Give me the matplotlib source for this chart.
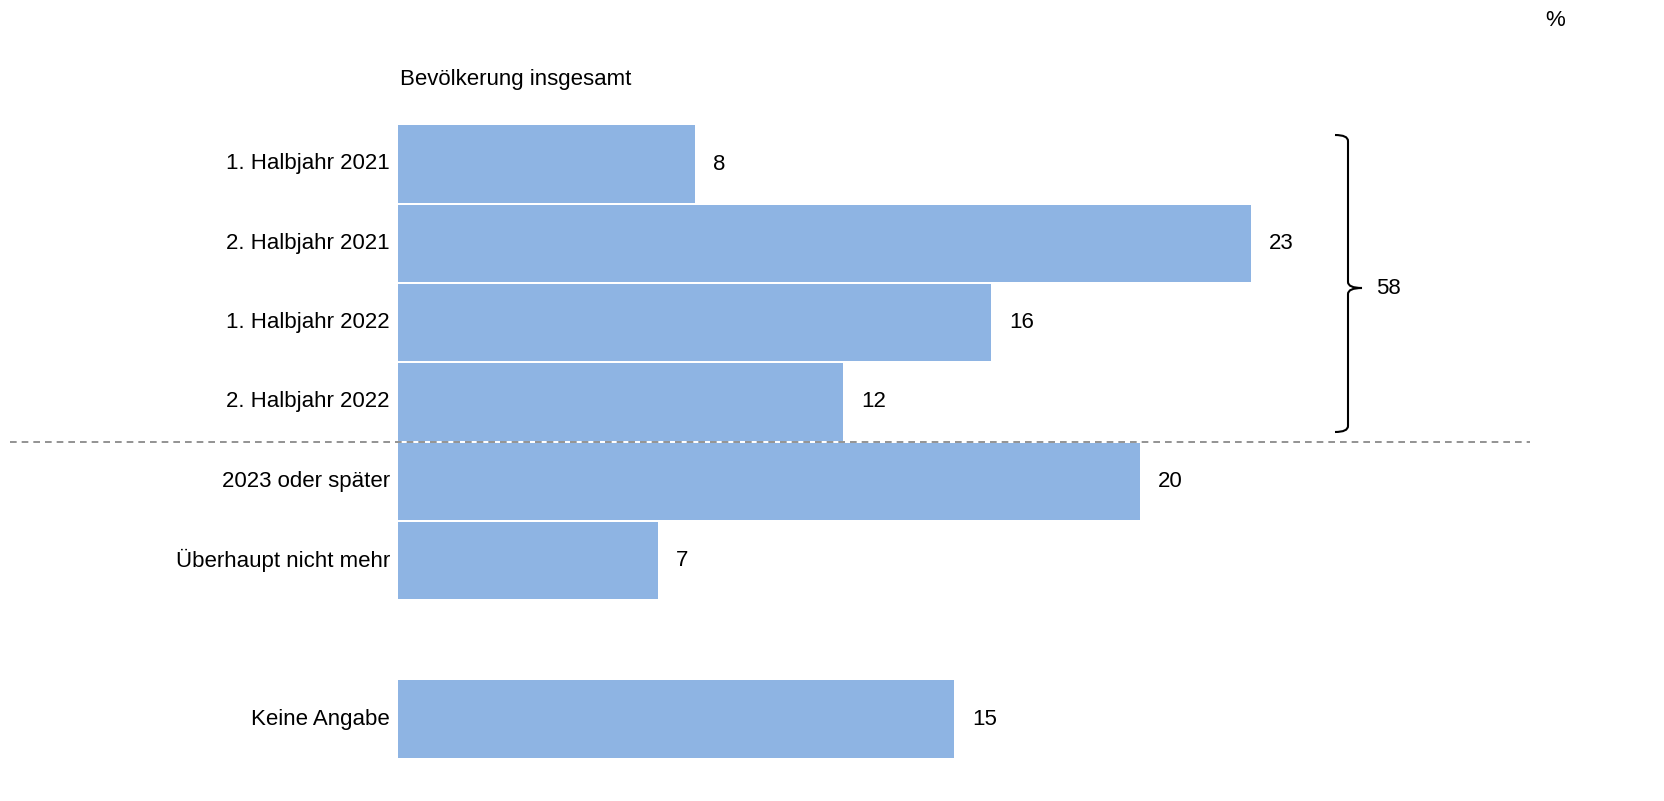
import matplotlib.pyplot as plt
from matplotlib.path import Path
from matplotlib.patches import PathPatch

# data
categories = ["1. Halbjahr 2021", "2. Halbjahr 2021", "1. Halbjahr 2022",
              "2. Halbjahr 2022", "2023 oder später", "Überhaupt nicht mehr",
              "Keine Angabe"]
values = [8, 23, 16, 12, 20, 7, 15]
positions = [0, 1, 2, 3, 4, 5, 7]   # one empty slot before "Keine Angabe"
brace_label = "58"                   # sum shown for the first four rows
title = "Bevölkerung insgesamt"
unit = "%"

plt.rcParams['font.family'] = ['Liberation Sans', 'DejaVu Sans']
bar_color = "#8EB4E3"
fs = 16

fig = plt.figure(figsize=(16.64, 8.01), dpi=100)
W, H = 1664, 801
px_x = 37.09   # pixels per percent
px_y = 79.3    # pixels per row
x0_px, y0_px = 398, 164   # left edge of bars, centre of first row

ax = fig.add_axes([x0_px / W, 0, 1 - x0_px / W, 1])
ax.set_xlim(0, (W - x0_px) / px_x)
ax.set_ylim((H - y0_px) / px_y, -y0_px / px_y)
ax.axis("off")

ax.barh(positions, values, height=0.975, color=bar_color, linewidth=0)

for p, v, c in zip(positions, values, categories):
    ax.text(-8 / px_x, p, c, ha="right", va="center", fontsize=fs)
    ax.text(v + 18 / px_x, p, str(v), ha="left", va="center", fontsize=fs)

# dashed separator between 2022 and later
ax.plot([(10 - x0_px) / px_x, (1530 - x0_px) / px_x], [3.5, 3.5],
        ls=(0, (4, 3)), color="#808080", lw=1.2, clip_on=False)

# curly brace for the first four rows
xh = (1335 - x0_px) / px_x
xv = (1348 - x0_px) / px_x
xt = (1362 - x0_px) / px_x
yt = (135 - y0_px) / px_y
yb = (432 - y0_px) / px_y
ym = (288 - y0_px) / px_y
ry = 6 / px_y
verts = [(xh, yt), (xv, yt), (xv, yt + ry),
         (xv, ym - ry), (xv, ym), (xt, ym),
         (xv, ym), (xv, ym + ry),
         (xv, yb - ry), (xv, yb), (xh, yb)]
codes = [Path.MOVETO, Path.CURVE3, Path.CURVE3,
         Path.LINETO, Path.CURVE3, Path.CURVE3,
         Path.CURVE3, Path.CURVE3,
         Path.LINETO, Path.CURVE3, Path.CURVE3]
ax.add_patch(PathPatch(Path(verts, codes), fill=False, lw=1.5,
                       edgecolor="black", clip_on=False))
ax.text((1376 - x0_px) / px_x, ym, brace_label, ha="left", va="center", fontsize=fs)

fig.text(400 / W, 1 - 80 / H, title, ha="left", va="center", fontsize=fs)
fig.text(1555 / W, 1 - 20 / H, unit, ha="center", va="center", fontsize=fs)

fig.savefig("out.png", dpi=100)
